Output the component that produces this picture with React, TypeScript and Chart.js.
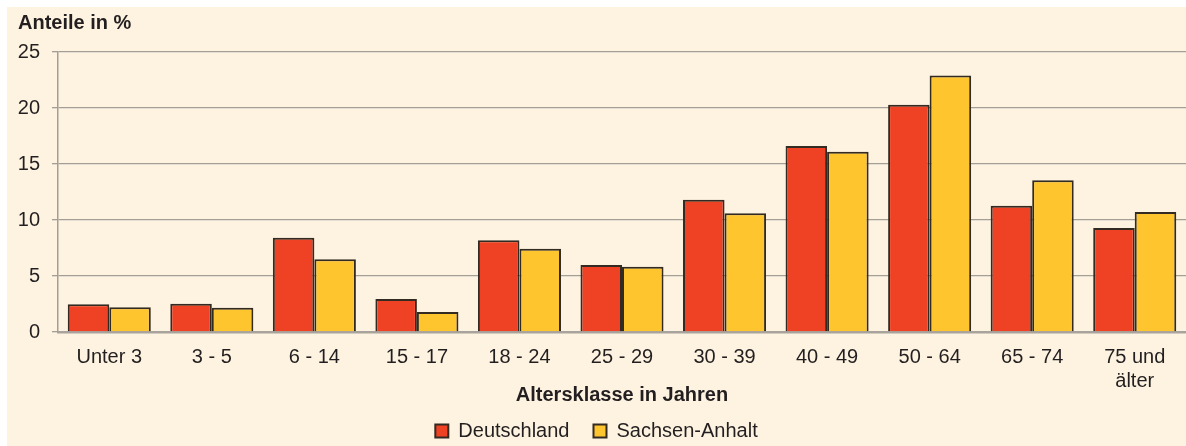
import React, { useEffect, useRef } from "react";
import { Chart, registerables } from "chart.js";

Chart.register(...registerables);

const categories: (string | string[])[] = [
  "Unter 3", "3 - 5", "6 - 14", "15 - 17", "18 - 24", "25 - 29",
  "30 - 39", "40 - 49", "50 - 64", "65 - 74", ["75 und", "älter"],
];
const deutschland = [2.47, 2.53, 8.42, 2.95, 8.19, 5.98, 11.8, 16.6, 20.3, 11.28, 9.29];
const sachsenAnhalt = [2.2, 2.17, 6.49, 1.79, 7.44, 5.83, 10.6, 16.1, 22.9, 13.54, 10.71];
const seriesNames = ["Deutschland", "Sachsen-Anhalt"];
const yTicks = [0, 5, 10, 15, 20, 25];
const yTitle = "Anteile in %";
const xTitle = "Altersklasse in Jahren";

const FONT = "'Liberation Sans', Arial, sans-serif";
const TEXT = "#231f20";
const GRID = "#a39e96";

const titlePlugin = {
  id: "topTitle",
  afterDraw(chart: any) {
    const ctx = chart.ctx;
    ctx.save();
    ctx.font = `bold 20px ${FONT}`;
    ctx.fillStyle = TEXT;
    ctx.textAlign = "left";
    ctx.textBaseline = "middle";
    ctx.fillText(yTitle, 11, 16);
    ctx.restore();
  },
};

const legendShift = {
  id: "legendShift",
  afterInit(chart: any) {
    const l = chart.legend;
    if (l && !l.__patched) {
      const f = l.fit.bind(l);
      l.fit = function () {
        f();
        this.height -= 5;
      };
      l.__patched = true;
    }
  },
};

export default function App() {
  const ref = useRef<HTMLCanvasElement>(null);
  useEffect(() => {
    if (!ref.current) return;
    const chart = new Chart(ref.current, {
      type: "bar",
      data: {
        labels: categories,
        datasets: [
          {
            label: seriesNames[0],
            data: deutschland,
            backgroundColor: "#ef4123",
            borderColor: "#332a22",
            borderWidth: 2,
            categoryPercentage: 0.81,
            barPercentage: 1.0,
          },
          {
            label: seriesNames[1],
            data: sachsenAnhalt,
            backgroundColor: "#fec52e",
            borderColor: "#332a22",
            borderWidth: 2,
            categoryPercentage: 0.81,
            barPercentage: 1.0,
          },
        ],
      },
      plugins: [titlePlugin, legendShift],
      options: {
        animation: false,
        responsive: true,
        maintainAspectRatio: false,
        layout: { padding: { top: 45, left: 0, right: 0, bottom: 0 } },
        plugins: {
          title: { display: false },
          tooltip: { enabled: false },
          legend: {
            position: "bottom",
            labels: {
              font: { family: FONT, size: 20 },
              color: TEXT,
              boxWidth: 13,
              boxHeight: 13,
              padding: 24,
            },
          },
        },
        scales: {
          x: {
            afterFit(scale: any) {
              scale.height = 65;
            },
            grid: { display: false, drawTicks: false },
            border: { display: true, color: "#a8a39c", width: 2.5 },
            ticks: {
              font: { family: FONT, size: 20 },
              color: TEXT,
              padding: 13,
              maxRotation: 0,
              autoSkip: false,
            },
            title: {
              display: true,
              text: xTitle,
              font: { family: FONT, size: 20, weight: "bold" },
              color: TEXT,
              padding: { top: 0, bottom: -10 },
            },
          },
          y: {
            min: 0,
            max: 25,
            afterFit(scale: any) {
              scale.width = 51;
            },
            afterBuildTicks(scale: any) {
              scale.ticks = yTicks.map((v) => ({ value: v }));
            },
            grid: { color: GRID, lineWidth: 1.3, tickLength: 6, drawTicks: true },
            border: { display: true, color: GRID, width: 1.5 },
            ticks: {
              font: { family: FONT, size: 20 },
              color: TEXT,
              padding: 12,
            },
          },
        },
      },
    });
    return () => chart.destroy();
  }, []);
  return (
    <div
      style={{
        position: "absolute",
        left: 7,
        top: 7,
        width: 1179,
        height: 439,
        background: "#fdf3e0",
      }}
    >
      <canvas ref={ref} />
    </div>
  );
}
